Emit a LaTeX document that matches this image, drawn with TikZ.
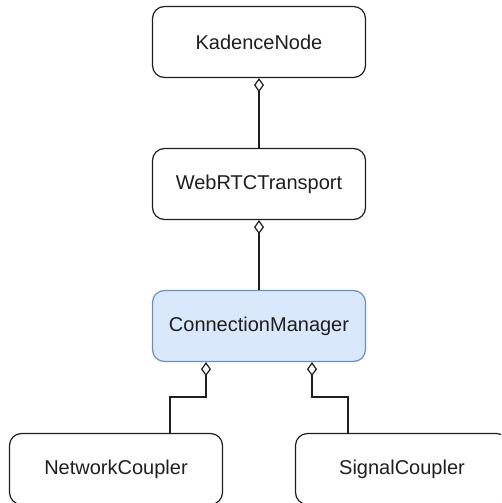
\documentclass[tikz,border=0pt]{standalone}
\usepackage{fontspec}
\setmainfont{Liberation Sans}
\usetikzlibrary{arrows.meta}
\definecolor{cmfill}{HTML}{DAE8FC}
\definecolor{cmdraw}{HTML}{6C8EBF}
\definecolor{ink}{HTML}{1E1E1E}
\tikzset{
  cls/.style={draw=ink, line width=1.2pt, rounded corners=12pt, fill=white,
    minimum width=213pt, minimum height=71pt, inner sep=0pt,
    font=\fontsize{20}{24}\selectfont, text=ink},
  hl/.style={fill=cmfill, draw=cmdraw},
  agg/.style={draw=ink, line width=1.2pt,
    -{Diamond[open, fill=white, length=14pt, width=10pt]}}
}
\begin{document}
\begin{tikzpicture}[x=1pt, y=-1pt]
\useasboundingbox (0,0) rectangle (501,503);
\clip (0,0) rectangle (501,503);
\node[cls] (k) at (259,42) {KadenceNode};
\node[cls] (w) at (259,184) {WebRTCTransport};
\node[cls, hl] (cm) at (259,326) {ConnectionManager};
\node[cls] (nc) at (116,469) {NetworkCoupler};
\node[cls] (sc) at (402,469) {SignalCoupler};
\draw[agg] (w.north) -- (k.south);
\draw[agg] (cm.north) -- (w.south);
\draw[agg] (170,0 |- nc.north) -- (170,397) -- (206,397) -- (206,0 |- cm.south);
\draw[agg] (348,0 |- sc.north) -- (348,397) -- (312,397) -- (312,0 |- cm.south);
\end{tikzpicture}
\end{document}
